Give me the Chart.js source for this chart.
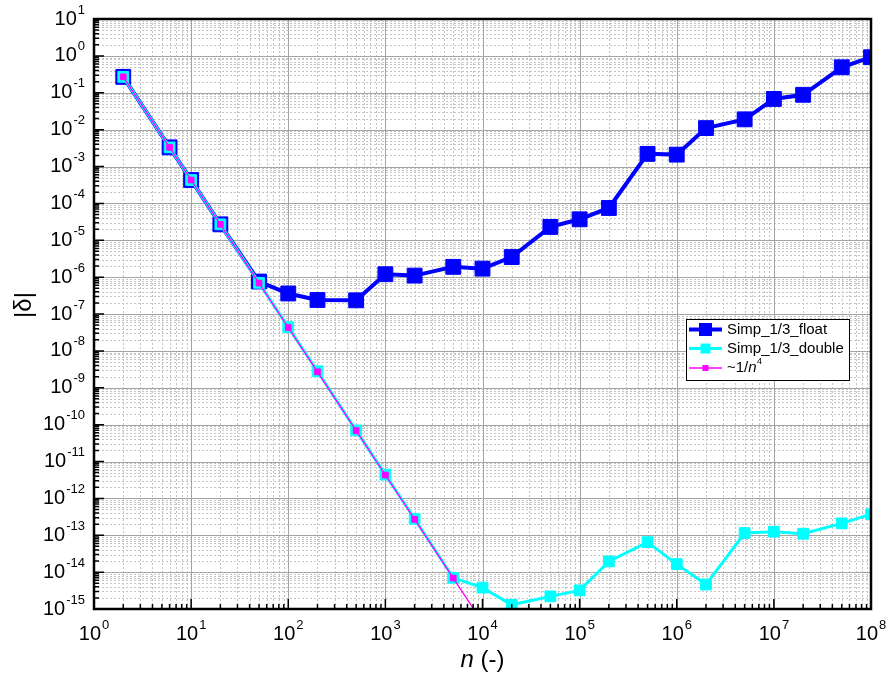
<!DOCTYPE html>
<html>
<head>
<meta charset="utf-8">
<script src="https://cdn.jsdelivr.net/npm/chart.js@4/dist/chart.umd.min.js"></script>
<style>
  html, body { margin: 0; padding: 0; background: #fff; }
  #wrap { width: 889px; height: 682px; }
</style>
</head>
<body>
<div id="wrap"><canvas id="c" width="889" height="682"></canvas></div>
<script>
// Number of intervals n and the absolute error |δ| of Simpson's 1/3 rule
const nFloat = [2, 6, 10, 20, 50, 100, 200, 500, 1e3, 2e3, 5e3, 1e4, 2e4, 5e4, 1e5, 2e5, 5e5, 1e6, 2e6, 5e6, 1e7, 2e7, 5e7, 1e8];
const deltaFloat = [0.27, 3.3e-3, 4.3e-4, 2.7e-5, 7.6e-7, 3.6e-7, 2.4e-7, 2.35e-7, 1.2e-6, 1.1e-6, 1.9e-6, 1.7e-6, 3.5e-6, 2.3e-5, 3.7e-5, 7.5e-5, 2.2e-3, 2.1e-3, 1.1e-2, 1.9e-2, 6.8e-2, 8.8e-2, 0.49, 0.92];

const nDouble = [2, 6, 10, 20, 50, 100, 200, 500, 1e3, 2e3, 5e3, 1e4, 2e4, 5e4, 1e5, 2e5, 5e5, 1e6, 2e6, 5e6, 1e7, 2e7, 5e7, 1e8];
const deltaDouble = [0.27, 3.3e-3, 4.3e-4, 2.7e-5, 7.0e-7, 4.4e-8, 2.8e-9, 7.0e-11, 4.4e-12, 2.8e-13, 7.0e-15, 3.8e-15, 1.3e-15, 2.2e-15, 3.2e-15, 1.95e-14, 6.5e-14, 1.65e-14, 4.6e-15, 1.15e-13, 1.25e-13, 1.1e-13, 2.1e-13, 3.7e-13];

// Reference slope ~1/n^4
const nRef = [2, 6, 10, 20, 50, 100, 200, 500, 1e3, 2e3, 5e3, 1e4];
const deltaRef = [0.27, 3.3e-3, 4.3e-4, 2.7e-5, 6.9e-7, 4.3e-8, 2.7e-9, 6.9e-11, 4.3e-12, 2.7e-13, 6.9e-15, 4.3e-16];

// Decade exponents for the tick labels
const xTickExponents = [0, 1, 2, 3, 4, 5, 6, 7, 8];
const yTickExponents = [-15, -14, -13, -12, -11, -10, -9, -8, -7, -6, -5, -4, -3, -2, -1, 0, 1];

const seriesNames = ['Simp_1/3_float', 'Simp_1/3_double'];

const FONT = '"Liberation Sans", Arial, sans-serif';
const BLUE = '#0000ff', CYAN = '#00ffff', MAGENTA = '#ff00ff';

function pts(xs, ys) { return xs.map((x, i) => ({ x: x, y: ys[i] })); }

// Background grid: dotted minor lines, solid major lines
const gridPlugin = {
  id: 'logGrid',
  beforeDatasetsDraw(chart) {
    const ctx = chart.ctx, a = chart.chartArea;
    const xs = chart.scales.x, ys = chart.scales.y;
    ctx.save();
    ctx.lineWidth = 1;
    ctx.strokeStyle = '#c4c4c4';
    ctx.setLineDash([2, 2]);
    ctx.beginPath();
    for (let i = 0; i < xTickExponents.length - 1; i++) {
      for (let m = 2; m <= 9; m++) {
        const px = Math.round(xs.getPixelForValue(m * Math.pow(10, xTickExponents[i]))) + 0.5;
        ctx.moveTo(px, a.top); ctx.lineTo(px, a.bottom);
      }
    }
    for (let i = 0; i < yTickExponents.length - 1; i++) {
      for (let m = 2; m <= 9; m++) {
        const py = Math.round(ys.getPixelForValue(m * Math.pow(10, yTickExponents[i]))) + 0.5;
        ctx.moveTo(a.left, py); ctx.lineTo(a.right, py);
      }
    }
    ctx.stroke();
    ctx.setLineDash([]);
    ctx.strokeStyle = '#a4a4a4';
    ctx.beginPath();
    xTickExponents.forEach(e => {
      const px = Math.round(xs.getPixelForValue(Math.pow(10, e))) + 0.5;
      ctx.moveTo(px, a.top); ctx.lineTo(px, a.bottom);
    });
    yTickExponents.forEach(e => {
      const py = Math.round(ys.getPixelForValue(Math.pow(10, e))) + 0.5;
      ctx.moveTo(a.left, py); ctx.lineTo(a.right, py);
    });
    ctx.stroke();
    ctx.restore();
  }
};

function drawPower(ctx, exp, x, y, align) {
  const base = '10', sup = String(exp);
  ctx.font = '20px ' + FONT;
  const wb = ctx.measureText(base).width;
  ctx.font = '13px ' + FONT;
  const ws = ctx.measureText(sup).width;
  const total = wb + 1 + ws;
  const x0 = align === 'right' ? x - total : x - total / 2;
  ctx.textAlign = 'left';
  ctx.textBaseline = 'middle';
  ctx.fillStyle = '#000';
  ctx.font = '20px ' + FONT;
  ctx.fillText(base, x0, y);
  ctx.font = '13px ' + FONT;
  ctx.fillText(sup, x0 + wb + 1, y - 9);
}

// Frame, inward ticks, tick labels, axis titles and legend
const framePlugin = {
  id: 'frame',
  afterDraw(chart) {
    const ctx = chart.ctx, a = chart.chartArea;
    const xs = chart.scales.x, ys = chart.scales.y;
    ctx.save();
    // ticks
    ctx.strokeStyle = '#000';
    ctx.lineWidth = 1.5;
    ctx.beginPath();
    for (let i = 0; i < xTickExponents.length; i++) {
      const e = xTickExponents[i];
      const px = xs.getPixelForValue(Math.pow(10, e));
      ctx.moveTo(px, a.bottom); ctx.lineTo(px, a.bottom - 10);
      if (i < xTickExponents.length - 1) {
        for (let m = 2; m <= 9; m++) {
          const q = xs.getPixelForValue(m * Math.pow(10, e));
          ctx.moveTo(q, a.bottom); ctx.lineTo(q, a.bottom - 5);
        }
      }
    }
    for (let i = 0; i < yTickExponents.length; i++) {
      const e = yTickExponents[i];
      const py = ys.getPixelForValue(Math.pow(10, e));
      ctx.moveTo(a.left, py); ctx.lineTo(a.left + 10, py);
      if (i < yTickExponents.length - 1) {
        for (let m = 2; m <= 9; m++) {
          const q = ys.getPixelForValue(m * Math.pow(10, e));
          ctx.moveTo(a.left, q); ctx.lineTo(a.left + 5, q);
        }
      }
    }
    ctx.stroke();
    // frame
    ctx.lineWidth = 2.5;
    ctx.strokeRect(a.left, a.top, a.right - a.left, a.bottom - a.top);

    // tick labels
    xTickExponents.forEach(e => drawPower(ctx, e, xs.getPixelForValue(Math.pow(10, e)), 634, 'center'));
    yTickExponents.forEach(e => drawPower(ctx, e, 85, ys.getPixelForValue(Math.pow(10, e)), 'right'));

    // axis titles
    ctx.fillStyle = '#000';
    ctx.textBaseline = 'middle';
    ctx.font = 'italic 24px ' + FONT;
    const wn = ctx.measureText('n').width;
    ctx.font = '24px ' + FONT;
    const wr = ctx.measureText(' (-)').width;
    const cx = (a.left + a.right) / 2;
    let tx = cx - (wn + wr) / 2;
    ctx.textAlign = 'left';
    ctx.font = 'italic 24px ' + FONT;
    ctx.fillText('n', tx, 660);
    ctx.font = '24px ' + FONT;
    ctx.fillText(' (-)', tx + wn, 660);

    ctx.save();
    ctx.translate(24, 305);
    ctx.rotate(-Math.PI / 2);
    ctx.textAlign = 'center';
    ctx.font = '24px ' + FONT;
    ctx.fillText('|δ|', 0, 0);
    ctx.restore();

    // legend
    const lx = 686, ly = 319, lw = 163, lh = 61;
    ctx.fillStyle = '#fff';
    ctx.fillRect(lx, ly, lw, lh);
    ctx.strokeStyle = '#000';
    ctx.lineWidth = 1;
    ctx.strokeRect(lx + 0.5, ly + 0.5, lw, lh);
    const rows = [
      { c: BLUE, lw: 4, s: 13, y: 329.5 },
      { c: CYAN, lw: 3, s: 10, y: 348.5 },
      { c: MAGENTA, lw: 1.5, s: 6, y: 368 }
    ];
    rows.forEach(r => {
      ctx.strokeStyle = r.c;
      ctx.lineWidth = r.lw;
      ctx.beginPath();
      ctx.moveTo(689, r.y); ctx.lineTo(722, r.y);
      ctx.stroke();
      ctx.fillStyle = r.c;
      ctx.fillRect(705.5 - r.s / 2, r.y - r.s / 2, r.s, r.s);
    });
    ctx.fillStyle = '#000';
    ctx.textAlign = 'left';
    ctx.textBaseline = 'middle';
    ctx.font = '15px ' + FONT;
    ctx.fillText(seriesNames[0], 727, rows[0].y);
    ctx.fillText(seriesNames[1], 727, rows[1].y);
    let t = '~1/';
    ctx.fillText(t, 727, rows[2].y);
    let w = ctx.measureText(t).width;
    ctx.font = 'italic 15px ' + FONT;
    ctx.fillText('n', 727 + w, rows[2].y);
    w += ctx.measureText('n').width;
    ctx.font = '9px ' + FONT;
    ctx.fillText('4', 727 + w + 0.5, rows[2].y - 6);
    ctx.restore();
  }
};

new Chart(document.getElementById('c'), {
  type: 'scatter',
  data: {
    datasets: [
      {
        label: '~1/n^4', data: pts(nRef, deltaRef), showLine: true, order: 0,
        borderColor: MAGENTA, backgroundColor: MAGENTA, borderWidth: 1.3,
        pointStyle: 'rect', pointRadius: 4, pointBorderWidth: 1, pointBorderColor: MAGENTA,
        pointBackgroundColor: MAGENTA
      },
      {
        label: seriesNames[1], data: pts(nDouble, deltaDouble), showLine: true, order: 1,
        borderColor: CYAN, backgroundColor: CYAN, borderWidth: 3,
        pointStyle: 'rect', pointRadius: 7.6, pointBorderWidth: 1, pointBorderColor: CYAN,
        pointBackgroundColor: CYAN
      },
      {
        label: seriesNames[0], data: pts(nFloat, deltaFloat), showLine: true, order: 2,
        borderColor: BLUE, backgroundColor: BLUE, borderWidth: 4,
        pointStyle: 'rect', pointRadius: 10.5, pointBorderWidth: 1, pointBorderColor: BLUE,
        pointBackgroundColor: BLUE
      }
    ]
  },
  options: {
    responsive: false,
    animation: false,
    devicePixelRatio: 1,
    layout: { padding: { top: 19, right: 18, left: 0, bottom: 0 } },
    plugins: { legend: { display: false }, tooltip: { enabled: false } },
    elements: { line: { tension: 0 } },
    scales: {
      x: {
        type: 'logarithmic', min: 1, max: 1e8,
        ticks: { display: false }, grid: { display: false, drawTicks: false }, border: { display: false },
        afterFit(s) { s.height = 73; }
      },
      y: {
        type: 'logarithmic', min: 1e-15, max: 10,
        ticks: { display: false }, grid: { display: false, drawTicks: false }, border: { display: false },
        afterFit(s) { s.width = 94; }
      }
    }
  },
  plugins: [gridPlugin, framePlugin]
});
</script>
</body>
</html>
